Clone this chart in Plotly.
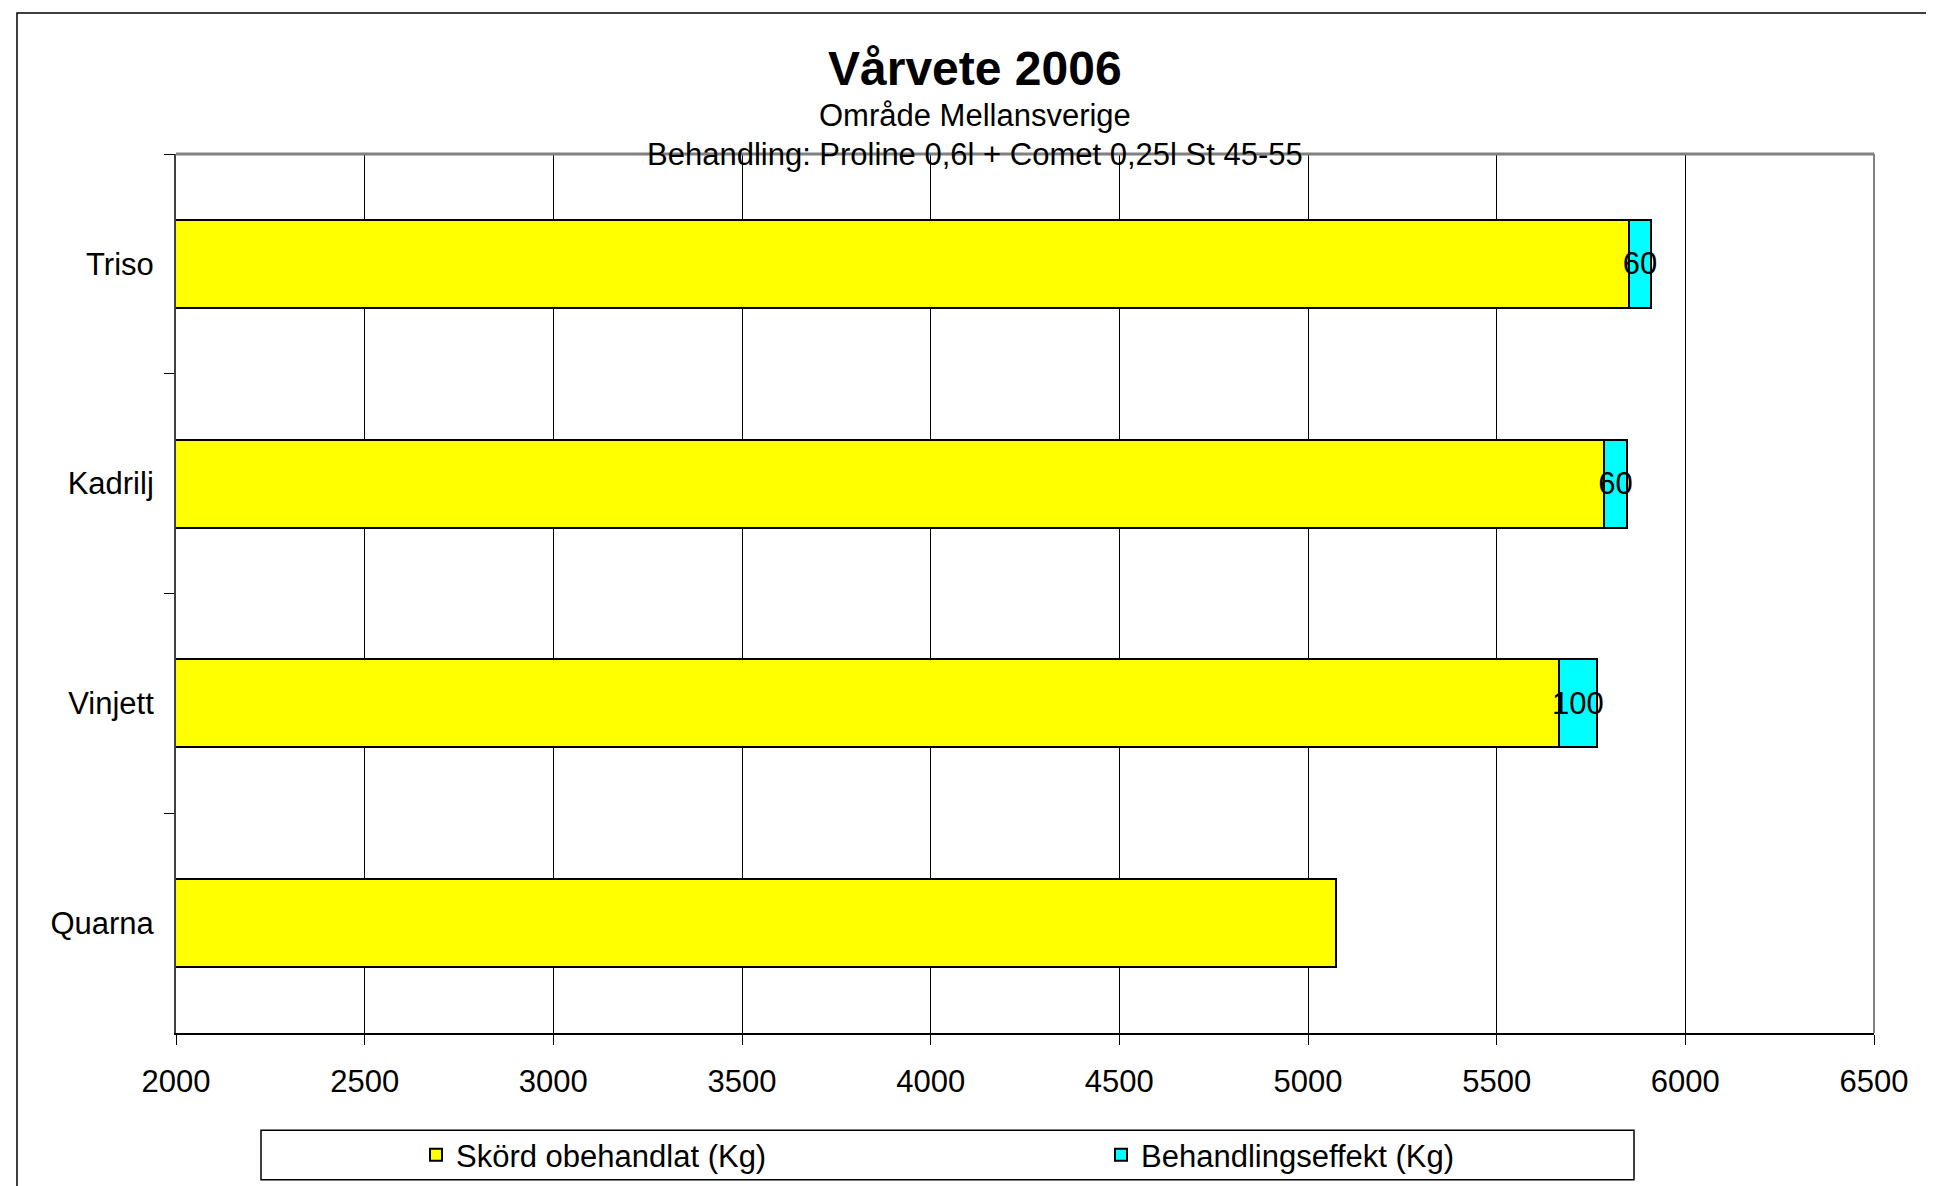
import plotly.graph_objects as go

# ---- data ----
categories = ["Triso", "Kadrilj", "Vinjett", "Quarna"]
skord_obehandlat = [5850, 5785, 5665, 5075]
behandlingseffekt = [60, 60, 100, 0]
effekt_labels = ["60", "60", "100", ""]
x_ticks = [2000, 2500, 3000, 3500, 4000, 4500, 5000, 5500, 6000, 6500]

W, H = 1934, 1186
L, R, T, B = 168, 1866, 146, 1032
PW, PH = R - L, B - T


def xp(px):
    return (px - L) / PW


def yp(py):
    return (B - py) / PH


FONT = "Liberation Sans, Arial, sans-serif"

fig = go.Figure()
fig.add_trace(go.Bar(
    y=categories, x=skord_obehandlat, orientation="h",
    name="Skörd obehandlat (Kg)",
    marker=dict(color="#FFFF00", line=dict(color="black", width=2)),
))
fig.add_trace(go.Bar(
    y=categories, x=behandlingseffekt, orientation="h",
    name="Behandlingseffekt (Kg)",
    marker=dict(color="#00FFFF", line=dict(color="black", width=2)),
    text=effekt_labels, textposition="inside", insidetextanchor="middle",
    constraintext="none", textangle=0,
    insidetextfont=dict(color="black", size=31, family=FONT),
))

fig.update_layout(
    width=W, height=H,
    barmode="stack", bargap=0.6,
    paper_bgcolor="white", plot_bgcolor="white",
    margin=dict(l=L, r=W - R, t=T, b=H - B, pad=0),
    font=dict(family=FONT, size=31, color="black"),
    showlegend=True,
    legend=dict(
        orientation="h", xanchor="left", yanchor="middle",
        x=xp(408), y=yp(1155), bgcolor="rgba(0,0,0,0)", borderwidth=0,
        font=dict(size=31, family=FONT), entrywidth=640, traceorder="normal",
    ),
    xaxis=dict(
        range=[x_ticks[0], x_ticks[-1]], tickvals=x_ticks,
        ticktext=[str(v) for v in x_ticks],
        showgrid=True, gridcolor="black", gridwidth=1,
        showline=True, linecolor="black", linewidth=2,
        ticks="outside", ticklen=10, tickcolor="black", tickwidth=1,
        ticklabelstandoff=10, zeroline=False,
    ),
    yaxis=dict(
        categoryorder="array", categoryarray=categories, autorange="reversed",
        showgrid=False, showline=True, linecolor="#404040", linewidth=2,
        ticks="outside", ticklen=10, tickcolor="black", tickwidth=1,
        tickson="boundaries", ticklabelstandoff=14,
    ),
    shapes=[
        dict(type="rect", xref="paper", yref="paper",
             x0=xp(9), x1=xp(1929), y0=yp(1200), y1=yp(4),
             line=dict(color="black", width=1.5), layer="below"),
        dict(type="rect", xref="paper", yref="paper",
             x0=xp(253), x1=xp(1626), y0=yp(1180), y1=yp(1130),
             line=dict(color="black", width=1.5), layer="below"),
        dict(type="line", xref="paper", yref="paper", x0=0, x1=1, y0=1, y1=1,
             line=dict(color="#808080", width=3)),
        dict(type="line", xref="paper", yref="paper", x0=1, x1=1, y0=0, y1=1,
             line=dict(color="#808080", width=2)),
    ],
    annotations=[
        dict(text="<b>Vårvete 2006</b>", xref="paper", yref="paper",
             x=xp(967), y=yp(60), xanchor="center", yanchor="middle",
             showarrow=False, font=dict(size=48, family=FONT)),
        dict(text="Område Mellansverige", xref="paper", yref="paper",
             x=xp(967), y=yp(107), xanchor="center", yanchor="middle",
             showarrow=False, font=dict(size=31, family=FONT)),
        dict(text="Behandling: Proline 0,6l + Comet 0,25l St 45-55",
             xref="paper", yref="paper",
             x=xp(967), y=yp(147), xanchor="center", yanchor="middle",
             showarrow=False, font=dict(size=31, family=FONT)),
    ],
)

fig.write_html("out.html")
